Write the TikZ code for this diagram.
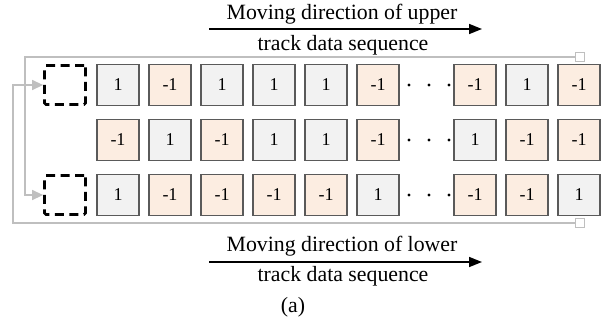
\documentclass[tikz,border=0pt]{standalone}
\usepackage{fontspec}
\setmainfont{Liberation Serif}
\usetikzlibrary{arrows.meta}
\definecolor{cellgray}{HTML}{F2F2F2}
\definecolor{cellorange}{HTML}{FCEDE1}
\definecolor{celledge}{HTML}{5A5A5A}
\definecolor{loopgray}{HTML}{BFBFBF}
\tikzset{
  cell/.style={draw=celledge, line width=1.3pt, minimum width=42pt, minimum height=41pt,
    inner sep=0pt, font=\fontsize{18}{18}\selectfont},
  poscell/.style={cell, fill=cellgray},
  negcell/.style={cell, fill=cellorange},
  slot/.style={draw=black, line width=2.8pt, dash pattern=on 9pt off 5.5pt,
    rounded corners=1.5pt, minimum width=41pt, minimum height=39pt, inner sep=0pt},
  loopline/.style={draw=loopgray, line width=1.4pt},
  loophead/.style={-{Triangle[length=11pt,width=10pt,fill=loopgray]}},
  endsq/.style={draw=loopgray, fill=white, line width=1.2pt, minimum size=9pt, inner sep=0pt},
  dirarrow/.style={line width=1.6pt, -{Triangle[length=13pt,width=10pt]}},
  dirtext/.style={font=\fontsize{21.8}{21.8}\selectfont, inner sep=0pt},
  seqdot/.style={fill=black, circle, minimum size=3.2pt, inner sep=0pt},
}
\begin{document}
\begin{tikzpicture}[x=1pt, y=-1pt]
\useasboundingbox (0,0) rectangle (615,326);

% moving-direction arrows with captions
\coordinate (ua0) at (209,29);
\coordinate (ua1) at (482,29);
\draw[dirarrow] (ua0) -- (ua1);
\node[dirtext] (ut1) at (342,14) {Moving direction of upper};
\node[dirtext] (ut2) at (343,45) {track data sequence};

\coordinate (la0) at (209,262);
\coordinate (la1) at (482,262);
\draw[dirarrow] (la0) -- (la1);
\node[dirtext] (lt1) at (342,246) {Moving direction of lower};
\node[dirtext] (lt2) at (343,276) {track data sequence};
\node[dirtext] (cap) at (293,307) {(a)};

% empty slots on the two tracks
\node[slot] (d1) at (65,85) {};
\node[slot] (d3) at (65,195) {};

% data cells: three rows, six leading columns and three trailing ones
\foreach \r/\y/\vals in {1/85/{1,-1,1,1,1,-1,-1,1,-1},
                         2/140/{-1,1,-1,1,1,-1,1,-1,-1},
                         3/195/{1,-1,-1,-1,-1,1,-1,-1,1}}{
  \foreach \v [count=\c] in \vals {
    \pgfmathsetmacro{\xc}{\c<7 ? 118+52*(\c-1) : 475+52*(\c-7)}
    \ifnum\v>0
      \node[poscell] (r\r c\c) at (\xc,\y) {1};
    \else
      \node[negcell] (r\r c\c) at (\xc,\y) {-1};
    \fi
  }
  \foreach \xd [count=\k] in {409,429,449}{
    \node[seqdot] (dot\r-\k) at (\xd,\y) {};
  }
}

% feedback loops from the track ends back to the slots
\node[endsq] (sqT) at (580,57) {};
\node[endsq] (sqB) at (580,223) {};
\coordinate (tl) at (25,57);
\coordinate (bl) at (13,223);
\draw[loopline, loophead] (sqT.west) -- (tl) |- (d3.west);
\draw[loopline, loophead] (sqB.west) -- (bl) |- (d1.west);
\end{tikzpicture}
\end{document}
